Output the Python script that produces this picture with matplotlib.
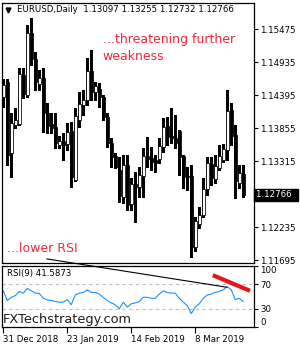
import numpy as np
import pandas as pd
import matplotlib
matplotlib.use("Agg")
import matplotlib.pyplot as plt
import matplotlib.transforms as mtransforms

# daily EURUSD candles, 31 Dec 2018 .. 26 Mar 2019 (no 1 Jan bar)
dates = pd.bdate_range("2018-12-31", "2019-03-26", freq="C", holidays=["2019-01-01"])

opens = [1.14363, 1.14602, 1.13456, 1.13910, 1.13926, 1.14728, 1.14400, 1.15410, 1.14985, 1.14576,
         1.14674, 1.14106, 1.13918, 1.13877, 1.13582, 1.13636, 1.13599, 1.13800, 1.13010, 1.13991,
         1.14237, 1.14319, 1.14782, 1.14454, 1.14494, 1.14363, 1.14036, 1.13610, 1.13391, 1.13173,
         1.12736, 1.13255, 1.12612, 1.12944, 1.12900, 1.13075, 1.13402, 1.13365, 1.13325, 1.13348,
         1.13554, 1.13893, 1.13718, 1.13692, 1.13800, 1.13391, 1.13075, 1.13064, 1.11918, 1.12290,
         1.12437, 1.12857, 1.13271, 1.13021, 1.13201, 1.13337, 1.13500, 1.14144, 1.13746, 1.12956,
         1.13097]
highs = [1.14657, 1.14657, 1.14101, 1.14188, 1.14842, 1.14837, 1.15546, 1.15660, 1.15109, 1.14810,
         1.14842, 1.14270, 1.14106, 1.14106, 1.13730, 1.13779, 1.13942, 1.13959, 1.14188, 1.14454,
         1.14482, 1.15001, 1.15137, 1.14618, 1.14597, 1.14400, 1.14106, 1.13697, 1.13451, 1.13391,
         1.13419, 1.13419, 1.13042, 1.13145, 1.13227, 1.13533, 1.13718, 1.13554, 1.13419, 1.13692,
         1.14019, 1.14045, 1.14183, 1.14073, 1.13828, 1.13419, 1.13227, 1.13255, 1.12409, 1.12573,
         1.13037, 1.13391, 1.13391, 1.13419, 1.13582, 1.13599, 1.14482, 1.14265, 1.13910, 1.13255,
         1.13255]
lows = [1.14199, 1.13255, 1.13054, 1.13860, 1.13910, 1.14346, 1.14363, 1.14891, 1.14482, 1.14482,
        1.13800, 1.13779, 1.13779, 1.13533, 1.13533, 1.13337, 1.13500, 1.12900, 1.12993, 1.13882,
        1.14073, 1.14237, 1.14319, 1.14319, 1.14209, 1.13991, 1.13554, 1.13227, 1.13206, 1.12654,
        1.12633, 1.12519, 1.12519, 1.12327, 1.12736, 1.12736, 1.13227, 1.13173, 1.13145, 1.13283,
        1.13473, 1.13582, 1.13610, 1.13528, 1.13091, 1.12874, 1.12846, 1.11754, 1.11853, 1.12219,
        1.12409, 1.12764, 1.12928, 1.12956, 1.13173, 1.13309, 1.13337, 1.13582, 1.12710, 1.12874,
        1.12732]
closes = [1.14564, 1.13419, 1.13937, 1.13980, 1.14744, 1.14417, 1.15410, 1.14985, 1.14618, 1.14674,
          1.14111, 1.13901, 1.13860, 1.13615, 1.13636, 1.13590, 1.13795, 1.13064, 1.14057, 1.14253,
          1.14319, 1.14782, 1.14454, 1.14536, 1.14363, 1.14036, 1.13610, 1.13391, 1.13227, 1.12748,
          1.13255, 1.12600, 1.12944, 1.12900, 1.13091, 1.13402, 1.13348, 1.13309, 1.13293, 1.13566,
          1.13872, 1.13708, 1.13692, 1.13620, 1.13391, 1.13064, 1.13054, 1.11918, 1.12327, 1.12437,
          1.12857, 1.13283, 1.13037, 1.13239, 1.13402, 1.13512, 1.14127, 1.13730, 1.12998, 1.13119,
          1.12766]

rsi = [59.3, 43.3, 48.7, 51.3, 58.3, 55.6, 63.1, 59.3, 55.6, 55.1,
       47.1, 44.4, 43.3, 41.7, 40.7, 40.7, 44.9, 36.4, 52.4, 55.6,
       56.7, 60.9, 56.7, 56.7, 54.0, 48.7, 43.3, 39.6, 36.4, 30.0,
       40.7, 32.7, 38.0, 39.6, 41.7, 48.7, 48.7, 47.1, 47.1, 54.0,
       59.3, 56.7, 55.6, 55.6, 47.1, 40.7, 35.3, 22.0, 32.7, 38.0,
       47.1, 52.4, 54.0, 56.7, 58.3, 60.9, 66.3, 60.9, 44.9, 47.1, 41.59]

price_ticks = [1.15475, 1.14935, 1.14395, 1.13855, 1.13315, 1.12235, 1.11695]
rsi_ticks = [0, 30, 70, 100]
date_ticks = ["2018-12-31", "2019-01-23", "2019-02-14", "2019-03-08"]
date_labels = ["31 Dec 2018", "23 Jan 2019", "14 Feb 2019", "8 Mar 2019"]

# trend lines drawn on the RSI window (bar index, rsi value)
rsi_trend_x = [10.9, 55.9]
rsi_trend_y = [111.6, 65.2]
red_line_x = [52.4, 61.7]
red_line_y = [84.9, 59.3]

o = np.array(opens)
h = np.array(highs)
l = np.array(lows)
c = np.array(closes)
x = np.arange(len(dates))

fig = plt.figure(figsize=(3, 3.5), dpi=100)
ax = fig.add_axes([2/300, 1-263/350, 252/300, 260/350])
ax2 = fig.add_axes([2/300, 1-327/350, 252/300, 61/350])

# candles
up = c >= o
ax.vlines(x, l, h, color="black", lw=0.75, zorder=1, antialiased=False)
ax.bar(x, np.abs(c-o) + 0.00004, bottom=np.minimum(o, c), width=0.66,
       color=np.where(up, "white", "black"), edgecolor="black", lw=0.55, zorder=2)

ax.set_xlim(-0.33, 62.7)
ax.set_ylim(1.11651, 1.15906)
ax.set_xticks([])
ax.yaxis.tick_right()
ax.set_yticks(price_ticks)
ax.set_yticklabels(["%.5f" % p for p in price_ticks])
ax.tick_params(axis="y", direction="out", length=3, width=0.8, pad=1.5, labelsize=6.2)
for s in ax.spines.values():
    s.set_linewidth(0.9)

trans = mtransforms.blended_transform_factory(ax.transAxes, ax.transData)
ax.text(1.006, closes[-1], "1.12766  ", transform=trans, color="white", fontsize=6.2,
        va="center", ha="left", bbox=dict(fc="black", ec="black", pad=1.2))

ax.plot([0.025], [0.974], marker="v", color="black", ms=3.5, transform=ax.transAxes)
ax.text(0.06, 0.974, "EURUSD,Daily  1.13097 1.13255 1.12732 1.12766", transform=ax.transAxes,
        fontsize=6.2, va="center", ha="left")

red = "#f0283a"
ax.text(0.4, 0.858, "...threatening further", transform=ax.transAxes, color=red,
        fontsize=9, va="center")
ax.text(0.4, 0.793, "weakness", transform=ax.transAxes, color=red, fontsize=9, va="center")
ax.text(0.02, 0.054, "...lower RSI", transform=ax.transAxes, color=red, fontsize=9, va="center")

# RSI window
ax2.axhline(70, color="#c0c0c0", lw=0.8, ls=(0, (3, 3)))
ax2.axhline(30, color="#c0c0c0", lw=0.8, ls=(0, (3, 3)))
ax2.plot(x, rsi, color="#1e90ff", lw=0.8)
ax2.plot(rsi_trend_x, rsi_trend_y, color="black", lw=0.8, clip_on=False, zorder=5)
ax2.plot(red_line_x, red_line_y, color="#e8141c", lw=3, solid_capstyle="butt", zorder=6)

ax2.set_xlim(-0.33, 62.7)
ax2.set_ylim(0, 100)
ax2.yaxis.tick_right()
ax2.set_yticks(rsi_ticks)
ax2.set_yticklabels([str(v) for v in rsi_ticks])
ax2.tick_params(axis="y", direction="out", length=3, width=0.8, pad=1.5, labelsize=6.2)
ylab = ax2.get_yticklabels()
ylab[0].set_va("bottom")
ylab[-1].set_va("top")

ax2.set_xticks(dates.get_indexer(pd.to_datetime(date_ticks)))
ax2.set_xticklabels(date_labels, ha="left")
ax2.tick_params(axis="x", direction="out", length=4, width=0.8, pad=2, labelsize=6.2)
for s in ax2.spines.values():
    s.set_linewidth(0.9)

ax2.text(0.02, 0.87, "RSI(9) 41.5873", transform=ax2.transAxes, fontsize=6.2, va="center")
fig.text(3/300, 1-323/350, "FXTechstrategy.com", fontsize=9.3, color="#1e1e1e", va="baseline")

fig.savefig("out.png", dpi=100)
